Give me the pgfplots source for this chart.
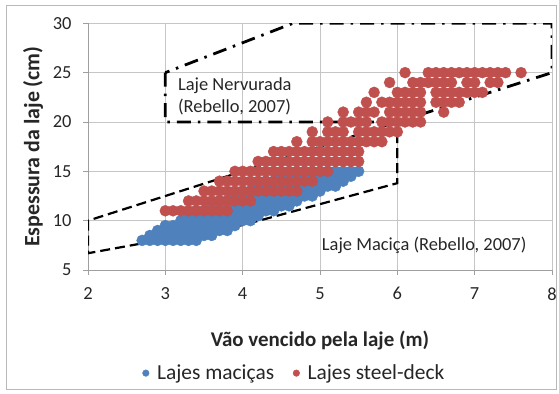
\documentclass[border=0pt]{standalone}
\usepackage{pgfplots}
\pgfplotsset{compat=1.18}
\usepackage{fontspec}
\setmainfont{Carlito}
\definecolor{cblue}{HTML}{4F81BD}
\definecolor{cred}{HTML}{C0504D}
\begin{document}
\begin{tikzpicture}
\useasboundingbox (0bp,0bp) rectangle (559bp,394bp);
\draw[gray!55, line width=0.8bp] (6bp,4.5bp) rectangle (556.5bp,389bp);
\begin{axis}[
  at={(88bp,124bp)}, anchor=south west,
  scale only axis, width=464bp, height=246.7bp,
  xmin=2, xmax=8, ymin=5, ymax=30,
  xtick={2,3,4,5,6,7,8}, ytick={5,10,15,20,25,30},
  axis lines*=left,
  axis line style={gray!75, line width=0.8bp},
  grid=major,
  major grid style={gray!45, line width=0.8bp},
  tick align=outside, major tick length=5bp,
  tick style={gray!75, line width=0.8bp},
  /pgf/number format/assume math mode=true,
  ticklabel style={font=\fontsize{18.5}{20}\selectfont, text=black!85},
  xticklabel style={yshift=-9bp},
  yticklabel style={xshift=-8bp},
  xlabel={\bfseries Vão vencido pela laje (m)},
  ylabel={\bfseries Espessura da laje (cm)},
  label style={text=black!85},
  xlabel style={font=\fontsize{21}{23}\selectfont, at={(axis description cs:0.5,-0.284)}, anchor=center},
  ylabel style={font=\fontsize{22}{24}\selectfont, at={(axis description cs:-0.1185,0.5)}, anchor=center, rotate=0},
  legend style={at={(axis description cs:0.444,-0.418)}, anchor=center, draw=none, fill=none,
    font=\fontsize{21.5}{23}\selectfont, text=black!85,
    /tikz/every even column/.append style={column sep=16bp}},
  legend columns=2,
  legend image code/.code={\path (-4bp,0bp) (9bp,0bp); \draw[#1,mark size=3.3bp] plot coordinates {(0bp,0bp)};},
]
% Lajes macicas
\addplot[only marks, mark=*, mark size=5.5bp, color=cblue, mark options={draw=cblue, fill=cblue}] coordinates {
(2.7,8)(2.8,8)(2.9,8)(3.0,8)(3.1,8)(3.2,8)(3.3,8)(3.4,8)
(2.8,8.5)(2.9,8.5)(3.0,8.5)(3.1,8.5)(3.2,8.5)(3.3,8.5)(3.4,8.5)(3.5,8.5)(3.6,8.5)
(2.9,9)(3.0,9)(3.1,9)(3.2,9)(3.3,9)(3.4,9)(3.5,9)(3.6,9)(3.7,9)(3.8,9)
(3.0,9.5)(3.1,9.5)(3.2,9.5)(3.3,9.5)(3.4,9.5)(3.5,9.5)(3.6,9.5)(3.7,9.5)(3.8,9.5)(3.9,9.5)
(3.2,10)(3.3,10)(3.4,10)(3.5,10)(3.6,10)(3.7,10)(3.8,10)(3.9,10)(4.0,10)(4.1,10)
(3.3,10.5)(3.4,10.5)(3.5,10.5)(3.6,10.5)(3.7,10.5)(3.8,10.5)(3.9,10.5)(4.0,10.5)(4.1,10.5)(4.2,10.5)
(3.4,11)(3.5,11)(3.6,11)(3.7,11)(3.8,11)(3.9,11)(4.0,11)(4.1,11)(4.2,11)(4.3,11)(4.4,11)
(3.6,11.5)(3.7,11.5)(3.8,11.5)(3.9,11.5)(4.0,11.5)(4.1,11.5)(4.2,11.5)(4.3,11.5)(4.4,11.5)(4.5,11.5)(4.6,11.5)
(3.7,12)(3.8,12)(3.9,12)(4.0,12)(4.1,12)(4.2,12)(4.3,12)(4.4,12)(4.5,12)(4.6,12)(4.7,12)
(3.9,12.5)(4.0,12.5)(4.1,12.5)(4.2,12.5)(4.3,12.5)(4.4,12.5)(4.5,12.5)(4.6,12.5)(4.7,12.5)(4.8,12.5)(4.9,12.5)
(4.0,13)(4.1,13)(4.2,13)(4.3,13)(4.4,13)(4.5,13)(4.6,13)(4.7,13)(4.8,13)(4.9,13)(5.0,13)
(4.2,13.5)(4.3,13.5)(4.4,13.5)(4.5,13.5)(4.6,13.5)(4.7,13.5)(4.8,13.5)(4.9,13.5)(5.0,13.5)(5.1,13.5)(5.2,13.5)
(4.3,14)(4.4,14)(4.5,14)(4.6,14)(4.7,14)(4.8,14)(4.9,14)(5.0,14)(5.1,14)(5.2,14)(5.3,14)
(4.5,14.5)(4.6,14.5)(4.7,14.5)(4.8,14.5)(4.9,14.5)(5.0,14.5)(5.1,14.5)(5.2,14.5)(5.3,14.5)(5.4,14.5)
(4.7,15)(4.8,15)(4.9,15)(5.0,15)(5.1,15)(5.2,15)(5.3,15)(5.4,15)(5.5,15)
};
\addlegendentry{Lajes maciças}
% Lajes steel-deck
\addplot[only marks, mark=*, mark size=5.5bp, color=cred, mark options={draw=cred, fill=cred}] coordinates {
(3.0,11)(3.1,11)(3.2,11)(3.3,11)(3.4,11)(3.5,11)(3.6,11)(3.7,11)(3.8,11)
(3.3,12)(3.4,12)(3.5,12)(3.6,12)(3.7,12)(3.8,12)(3.9,12)(4.0,12)(4.1,12)
(3.5,13)(3.6,13)(3.7,13)(3.8,13)(3.9,13)(4.0,13)(4.1,13)(4.2,13)(4.3,13)(4.4,13)(4.5,13)(4.6,13)(4.7,13)
(3.7,14)(3.8,14)(3.9,14)(4.0,14)(4.1,14)(4.2,14)(4.3,14)(4.4,14)(4.5,14)(4.6,14)(4.7,14)(4.8,14)(4.9,14)
(3.9,15)(4.0,15)(4.1,15)(4.2,15)(4.3,15)(4.4,15)(4.5,15)(4.6,15)(4.7,15)(4.8,15)(4.9,15)(5.0,15)(5.1,15)
(4.2,16)(4.3,16)(4.4,16)(4.5,16)(4.6,16)(4.7,16)(4.8,16)(4.9,16)(5.0,16)(5.1,16)(5.2,16)(5.3,16)(5.4,16)(5.5,16)
(4.4,17)(4.5,17)(4.6,17)(4.7,17)(4.8,17)(4.9,17)(5.0,17)(5.1,17)(5.2,17)(5.3,17)(5.4,17)(5.5,17)
(4.7,18)(4.9,18)(5.0,18)(5.1,18)(5.2,18)(5.3,18)(5.4,18)(5.5,18)(5.6,18)(5.7,18)(5.8,18)
(4.9,19)(5.1,19)(5.2,19)(5.3,19)(5.5,19)(5.6,19)(5.7,19)(5.8,19)(5.9,19)(6.0,19)
(5.1,20)(5.3,20)(5.4,20)(5.5,20)(5.6,20)(5.8,20)(5.9,20)(6.0,20)(6.1,20)(6.2,20)(6.3,20)
(5.3,21)(5.5,21)(5.6,21)(5.7,21)(5.9,21)(6.0,21)(6.1,21)(6.2,21)(6.3,21)(6.6,21)
(5.6,22)(5.8,22)(5.9,22)(6.0,22)(6.1,22)(6.2,22)(6.3,22)(6.5,22)(6.6,22)(6.7,22)(6.8,22)
(5.7,23)(6.0,23)(6.1,23)(6.2,23)(6.3,23)(6.5,23)(6.6,23)(6.7,23)(6.8,23)(6.9,23)(7.0,23)(7.1,23)
(5.9,24)(6.2,24)(6.3,24)(6.4,24)(6.5,24)(6.6,24)(6.7,24)(6.9,24)(7.0,24)(7.2,24)(7.3,24)
(6.1,25)(6.4,25)(6.5,25)(6.6,25)(6.7,25)(6.8,25)(6.9,25)(7.0,25)(7.1,25)(7.2,25)(7.3,25)(7.4,25)(7.6,25)
};
\addlegendentry{Lajes steel-deck}
% Laje macica region (dashed)
\addplot[black, line width=2.2bp, dash pattern=on 10bp off 5bp, forget plot] coordinates {
(2,10)(2,6.7)(4,9.55)(6,13.8)(6,20)(2,10)};
% Laje nervurada region (dash-dot)
\addplot[black, line width=2.8bp, dash pattern=on 14bp off 7bp on 2.5bp off 7bp, forget plot] coordinates {
(3,25)(3,20)(6,20)(8,25)(8,30)(4.65,30)(3,25)};
\node[anchor=west, align=left, font=\fontsize{18.5}{22}\selectfont, text=black!85] at (axis cs:3.12,22.6) {Laje Nervurada\\(Rebello, 2007)};
\node[anchor=west, font=\fontsize{18.5}{20}\selectfont, text=black!85] at (axis cs:4.98,7.5) {Laje Maciça (Rebello, 2007)};
\end{axis}
\end{tikzpicture}
\end{document}
